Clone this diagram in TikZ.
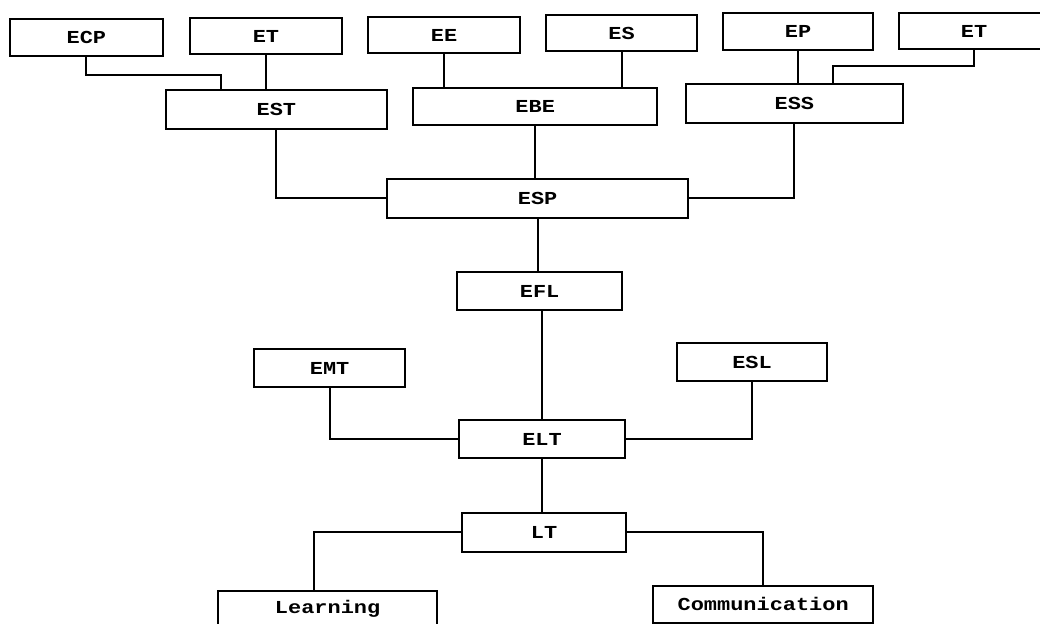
\documentclass[tikz,border=0pt]{standalone}
\usepackage{fontspec}
\newfontfamily\dotfont[FakeStretch=1.2]{Liberation Mono}
\tikzset{
  box/.style={draw, line width=1.5pt, inner sep=0pt, font=\dotfont\bfseries\fontsize{13}{15}\selectfont},
  link/.style={line width=1.5pt}
}
\begin{document}
\begin{tikzpicture}
\useasboundingbox (0,0) rectangle (26,-15.6);
% top row
\node[box, minimum width=3.83cm, minimum height=0.93cm] (ecp) at (2.16,-0.94) {ECP};
\node[box, minimum width=3.80cm, minimum height=0.90cm] (etone) at (6.65,-0.90) {ET};
\node[box, minimum width=3.80cm, minimum height=0.90cm] (ee) at (11.10,-0.88) {EE};
\node[box, minimum width=3.78cm, minimum height=0.90cm] (es) at (15.54,-0.83) {ES};
\node[box, minimum width=3.75cm, minimum height=0.93cm] (ep) at (19.95,-0.79) {EP};
\node[box, minimum width=3.75cm, minimum height=0.90cm] (ettwo) at (24.35,-0.78) {ET};
% second row
\node[box, minimum width=5.53cm, minimum height=0.98cm] (est) at (6.91,-2.74) {EST};
\node[box, minimum width=6.10cm, minimum height=0.93cm] (ebe) at (13.38,-2.66) {EBE};
\node[box, minimum width=5.43cm, minimum height=0.98cm] (ess) at (19.86,-2.59) {ESS};
% middle
\node[box, minimum width=7.53cm, minimum height=0.98cm] (esp) at (13.44,-4.96) {ESP};
\node[box, minimum width=4.13cm, minimum height=0.95cm] (efl) at (13.49,-7.28) {EFL};
\node[box, minimum width=3.78cm, minimum height=0.95cm] (emt) at (8.24,-9.20) {EMT};
\node[box, minimum width=3.75cm, minimum height=0.95cm] (esl) at (18.80,-9.05) {ESL};
\node[box, minimum width=4.15cm, minimum height=0.95cm] (elt) at (13.55,-10.98) {ELT};
% bottom
\node[box, minimum width=4.10cm, minimum height=0.98cm] (lt) at (13.60,-13.31) {LT};
\node[box, minimum width=5.48cm, minimum height=0.93cm] (learning) at (8.19,-15.23) {Learning};
\node[box, minimum width=5.50cm, minimum height=0.93cm] (comm) at (19.08,-15.11) {Communication};
% links
\draw[link] (ecp.south) -- ++(0,-0.45) -| ([xshift=-1.39cm]est.north);
\draw[link] (etone.south) -- (etone.south |- est.north);
\draw[link] (ee.south) -- (ee.south |- ebe.north);
\draw[link] (es.south) -- (es.south |- ebe.north);
\draw[link] (ep.south) -- (ep.south |- ess.north);
\draw[link] (ettwo.south) -- ++(0,-0.4) -| ([xshift=0.97cm]ess.north);
\draw[link] (est.south) |- (esp.west);
\draw[link] (ebe.south) -- (ebe.south |- esp.north);
\draw[link] (ess.south) |- (esp.east);
\draw[link] (esp.south) -- (esp.south |- efl.north);
\draw[link] (efl.south -| elt.north) -- (elt.north);
\draw[link] (emt.south) |- (elt.west);
\draw[link] (esl.south) |- (elt.east);
\draw[link] (elt.south) -- (elt.south |- lt.north);
\draw[link] (lt.west) -| ([xshift=-0.35cm]learning.north);
\draw[link] (lt.east) -| (comm.north);
\end{tikzpicture}
\end{document}
